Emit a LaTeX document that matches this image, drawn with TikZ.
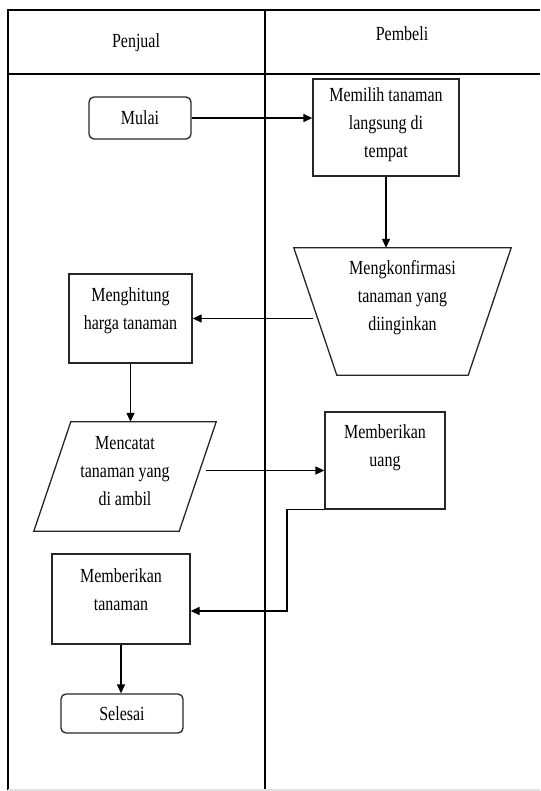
\documentclass[tikz,border=0pt]{standalone}
\usepackage{fontspec}
\setmainfont[FakeStretch=0.8]{Liberation Serif}
\usetikzlibrary{arrows.meta}

\tikzset{
  lane/.style={line width=1.4pt},
  garis/.style={draw=black!85, line width=1.3pt},
  proc/.style={garis, inner sep=0pt},
  term/.style={proc, rounded corners=5pt},
  frame/.style={inner sep=0pt},
  arr/.style={line width=1.3pt, -{Triangle[length=9pt,width=8pt]}},
  txt/.style={align=center, font=\fontsize{20}{28}\selectfont},
}

\begin{document}
\begin{tikzpicture}[x=1pt,y=-1pt]
\useasboundingbox (0,0) rectangle (540,791);
% swimlanes
\draw[lane] (8,790) -- (8,10) -- (540,10);
\draw[lane] (8,74) -- (540,74);
\draw[lane] (265,10) -- (265,791);
\draw[black!12, line width=1.4pt] (8,790) -- (540,790);
\node[txt] (penjual) at (136,43) {Penjual};
\node[txt] (pembeli) at (402,34) {Pembeli};

% penjual
\node[term, minimum width=102, minimum height=42,
  label={[txt]center:{Mulai}}] (mulai) at (140,118) {};
\node[proc, minimum width=123, minimum height=89,
  label={[txt,yshift=8pt]center:{Menghitung\\harga tanaman}}] (hitung) at (130.5,318.5) {};
\node[frame, minimum width=182, minimum height=109,
  label={[txt,yshift=5pt]center:{Mencatat\\tanaman yang\\di ambil}}] (catat) at (125,476.5) {};
\draw[garis] ([xshift=37pt]catat.north west) -- (catat.north east)
  -- ([xshift=-37pt]catat.south east) -- (catat.south west) -- cycle;
\node[proc, minimum width=138, minimum height=90,
  label={[txt,yshift=9pt]center:{Memberikan\\tanaman}}] (tanaman) at (121,599) {};
\node[term, minimum width=122, minimum height=39,
  label={[txt]center:{Selesai}}] (selesai) at (122,713.5) {};

% pembeli
\node[proc, minimum width=146, minimum height=97,
  label={[txt,yshift=3pt]center:{Memilih tanaman\\langsung di\\tempat}}] (memilih) at (386,127.5) {};
\node[frame, minimum width=217, minimum height=127,
  label={[txt,yshift=14pt]center:{Mengkonfirmasi\\tanaman yang\\diinginkan}}] (konfirm) at (402.5,311.5) {};
\draw[garis] (konfirm.north west) -- (konfirm.north east)
  -- ([xshift=-43pt]konfirm.south east) -- ([xshift=43pt]konfirm.south west) -- cycle;
\node[proc, minimum width=120, minimum height=97,
  label={[txt,yshift=13pt]center:{Memberikan\\uang}}] (uang) at (385,460.5) {};

% alur
\coordinate (konfirmout) at ([xshift=19pt]konfirm.west);
\coordinate (catatout) at ([xshift=-10pt,yshift=6pt]catat.east);
\coordinate (belok) at (287,611);
\draw[arr] (mulai.east) -- (mulai.east -| memilih.west);
\draw[arr] (memilih.south) -- (memilih.south |- konfirm.north);
\draw[arr] (konfirmout |- hitung.east) -- (hitung.east);
\draw[arr] (hitung.south) -- (hitung.south |- catat.north);
\draw[arr] (catatout) -- (catatout -| uang.west);
\draw[arr] (uang.south west) -| (belok) -- (belok -| tanaman.east);
\draw[arr] (tanaman.south) -- (tanaman.south |- selesai.north);
\end{tikzpicture}
\end{document}
